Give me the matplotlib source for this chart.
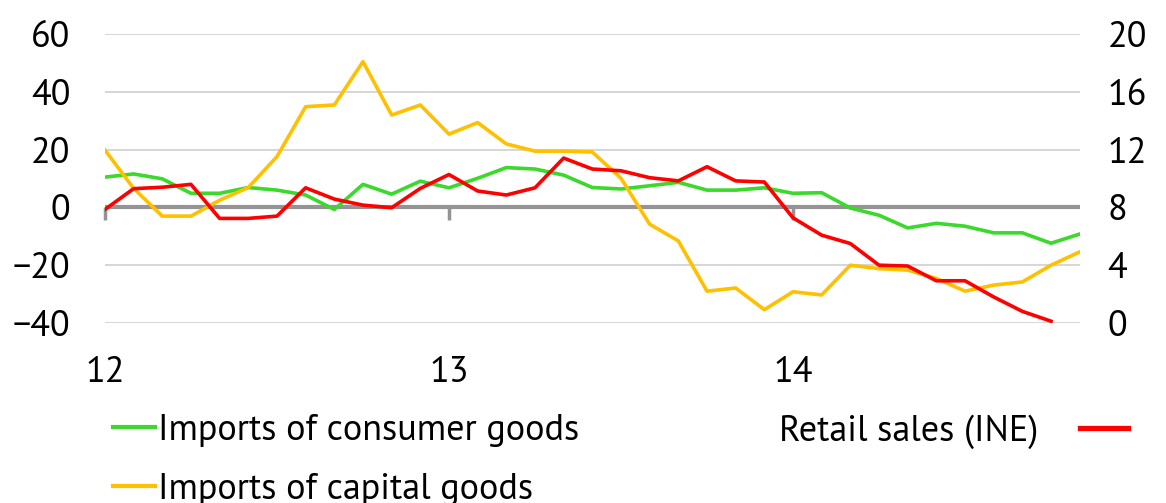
import numpy as np
import matplotlib
matplotlib.use("Agg")
import matplotlib.pyplot as plt
from matplotlib.lines import Line2D

plt.rcParams['font.family'] = ['PT Sans', 'DejaVu Sans']
plt.rcParams['font.size'] = 26

# monthly data, Jan 2012 .. Nov 2014
year_ticks = [0, 12, 24]
year_labels = ["12", "13", "14"]

consumer = [10.5, 11.6, 9.9, 4.9, 4.9, 6.9, 6.0, 4.3, -0.7, 8.0, 4.6, 9.1,
            6.8, 10.1, 13.8, 13.3, 11.2, 6.9, 6.4, 7.5, 8.7, 6.0, 6.0, 6.8,
            4.9, 5.1, -0.2, -2.7, -7.1, -5.5, -6.5, -8.8, -8.8, -12.4, -9.2]

capital = [19.9, 6.6, -3.0, -3.0, 2.5, 6.9, 17.6, 34.9, 35.5, 50.5, 32.0, 35.5,
           25.4, 29.4, 22.0, 19.5, 19.5, 19.2, 10.1, -5.8, -11.6, -29.0, -27.9, -35.4,
           -29.2, -30.3, -20.0, -21.2, -21.7, -24.6, -29.0, -26.9, -25.8, -20.0, -15.4]

retail = [7.86, 9.3, 9.4, 9.6, 7.24, 7.24, 7.4, 9.36, 8.58, 8.16, 7.98, 9.32,
          10.28, 9.14, 8.86, 9.36, 11.42, 10.66, 10.54, 10.06, 9.84, 10.82, 9.84, 9.76,
          7.28, 6.08, 5.5, 4.0, 3.94, 2.92, 2.92, 1.8, 0.8, 0.12]

GREEN = '#3BD92B'
YELLOW = '#FFC000'
RED = '#FF0000'

fig = plt.figure(figsize=(11.66, 5.03), dpi=100)
ax = fig.add_axes([0.090, 0.358, 0.836, 0.574])
ax2 = ax.twinx()

x1 = np.arange(len(consumer))
x2 = np.arange(len(retail))

ax.plot(x1, consumer, color=GREEN, lw=2.6, zorder=3)
ax.plot(x1, capital, color=YELLOW, lw=2.6, zorder=3)
ax2.plot(x2, retail, color=RED, lw=2.6, zorder=3)

ax.set_xlim(0, 34)
ax.set_ylim(-40, 60)
ax2.set_ylim(0, 20)
ax.set_yticks([-40, -20, 0, 20, 40, 60])
ax.set_yticklabels(["\u221240", "\u221220", "0", "20", "40", "60"])
ax2.set_yticks([0, 4, 8, 12, 16, 20])

for a in (ax, ax2):
    for s in a.spines.values():
        s.set_visible(False)

ax.grid(axis='y', color='#D0D0D0', lw=1.2)
ax.set_axisbelow(True)
ax.axhline(0, color='#949494', lw=3, zorder=2)

ax.tick_params(axis='y', length=0, pad=25)
ax2.tick_params(axis='y', length=0, pad=20)

# year ticks on the zero line, labels at the bottom
ax.spines['bottom'].set_position(('data', 0))
ax.set_xticks(year_ticks)
ax.tick_params(axis='x', direction='out', length=9, width=2.5, color='#949494',
               labelbottom=False)
sec = ax.secondary_xaxis('bottom')
sec.set_xticks(year_ticks, year_labels)
sec.tick_params(length=0, pad=24)
for s in sec.spines.values():
    s.set_visible(False)

h1 = [Line2D([], [], color=GREEN, lw=3), Line2D([], [], color=YELLOW, lw=3)]
fig.legend(h1, ["Imports of consumer goods", "Imports of capital goods"],
           loc='upper left', bbox_to_anchor=(0.097, 0.177), frameon=False,
           handlelength=1.15, handletextpad=0.1, labelspacing=0.72, borderpad=0,
           borderaxespad=0, fontsize=26)
fig.legend([Line2D([], [], color=RED, lw=3.8)], ["Retail sales (INE)"],
           loc='upper left', bbox_to_anchor=(0.668, 0.177), frameon=False,
           handlelength=1.35, handletextpad=1.15, markerfirst=False, borderpad=0,
           borderaxespad=0, fontsize=26)

fig.savefig("out.png", dpi=100)
